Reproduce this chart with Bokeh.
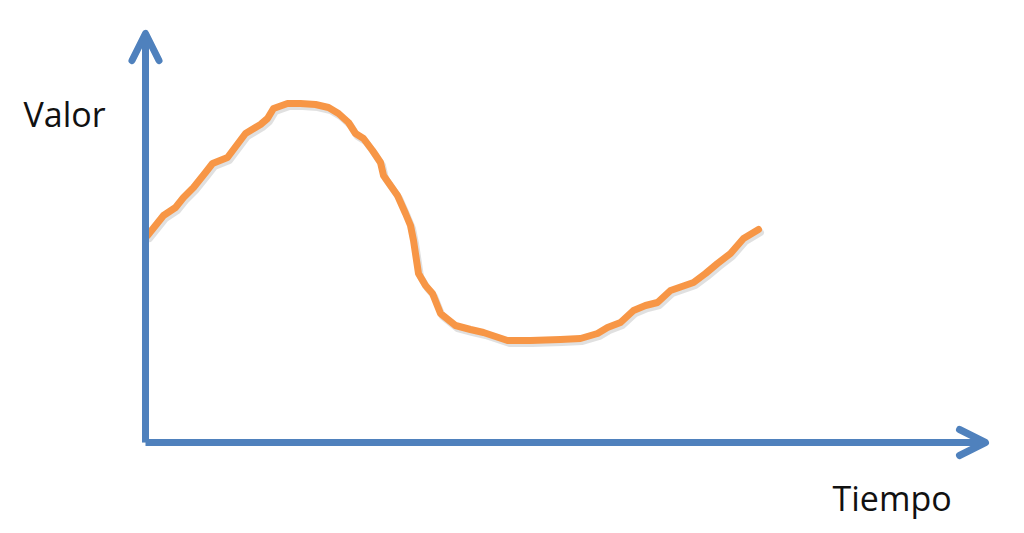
from bokeh.plotting import figure
from bokeh.models import Range1d, Arrow, OpenHead
from bokeh.core.properties import value
from bokeh.embed import file_html
from bokeh.resources import INLINE

# Data (time, value); origin at the axes' corner
tiempo = [2, 18, 30, 38, 48, 60, 67, 82, 100, 115, 122, 128, 142, 155, 170, 183, 193, 203,
          210, 218, 227, 235, 238, 245, 252, 260, 265, 268, 273, 280, 287, 295, 310, 325,
          338, 350, 362, 385, 415, 435, 452, 462, 475, 488, 500, 512, 525, 548, 560, 572,
          585, 598, 613]
valor = [207, 227, 235, 245, 255, 270, 279, 285, 309, 318, 324, 334, 339, 339, 338, 335, 329,
         320, 309, 304, 292, 280, 267, 257, 247, 229, 217, 202, 169, 157, 149, 129, 117, 113,
         110, 106, 102, 102, 103, 104, 109, 115, 120, 132, 137, 140, 152, 160, 169, 179, 189,
         204, 213]
x_axis_end = 840
y_axis_end = 409
y_label = "Valor"
x_label = "Tiempo"

BLUE = "#4F81BD"
ORANGE = "#F79646"

p = figure(width=1008, height=525, output_backend="svg", toolbar_location=None,
           x_range=Range1d(-145, 863), y_range=Range1d(-83, 442),
           min_border=0, outline_line_color=None)
p.axis.visible = False
p.grid.visible = False

# shadows
p.line([0, 0], [0, y_axis_end - 4], line_color="#000000", line_alpha=0.12, line_width=7)
p.line([t + 2 for t in tiempo], [v - 3 for v in valor], line_color="#000000",
       line_alpha=0.12, line_width=7, line_join="round", line_cap="round")

# axes with arrow heads
p.add_layout(Arrow(end=OpenHead(size=27, line_color=BLUE, line_width=7,
                                line_cap="round", line_join="round"),
                   x_start=0, y_start=0, x_end=0, y_end=y_axis_end,
                   line_color=BLUE, line_width=7))
p.add_layout(Arrow(end=OpenHead(size=26, line_color=BLUE, line_width=7,
                                line_cap="round", line_join="round"),
                   x_start=0, y_start=0, x_end=x_axis_end, y_end=0,
                   line_color=BLUE, line_width=7))

p.line(tiempo, valor, line_color=ORANGE, line_width=7, line_join="round", line_cap="round")

p.text(x=[-122], y=[329], text=[y_label], text_font=value("Open Sans"),
       text_font_size="34px", text_color="#111111", text_baseline="alphabetic")
p.text(x=[687], y=[-55], text=[x_label], text_font=value("Open Sans"),
       text_font_size="34px", text_color="#111111", text_baseline="alphabetic")

open("out.html", "w").write(file_html(p, INLINE))
